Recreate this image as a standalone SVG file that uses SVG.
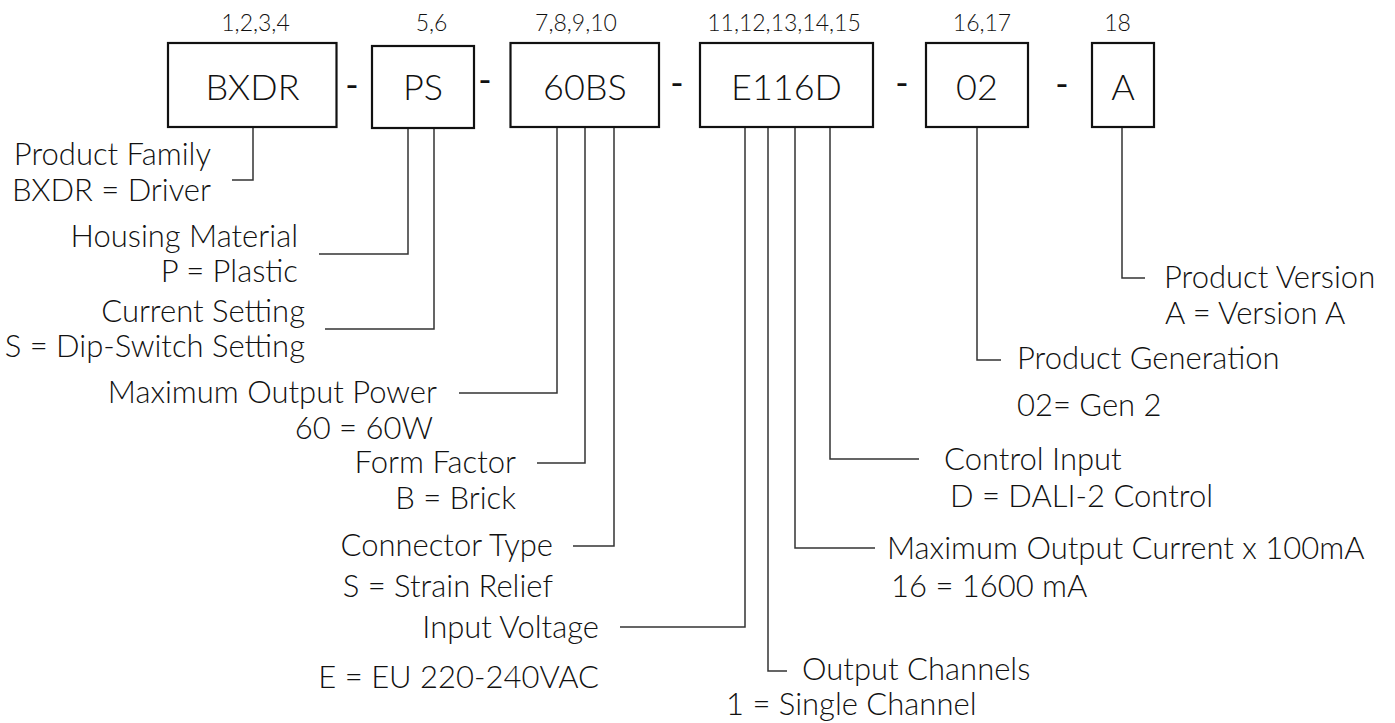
<svg xmlns="http://www.w3.org/2000/svg" width="1395" height="723" viewBox="0 0 1395 723">
<style>
text{font-family:Lato,"Open Sans","Liberation Sans",sans-serif;fill:#111;font-weight:300}
.box{fill:#fff;stroke:#111;stroke-width:2.2}
.code{font-size:36px;text-anchor:middle}
.pos{font-size:23px;text-anchor:middle}
.lbl{font-size:31px}
.r{text-anchor:end}
.l{text-anchor:start}
.dash{font-size:36px;text-anchor:middle;font-weight:400}
.conn{fill:none;stroke:#333;stroke-width:1.5}
</style>
<rect width="1395" height="723" fill="#fff"/>

<g id="connectors">
<path class="conn" d="M253,128 V180 H232"/>
<path class="conn" d="M408,129 V254 H319"/>
<path class="conn" d="M434,129 V329 H325"/>
<path class="conn" d="M557,124 V393 H459"/>
<path class="conn" d="M585,128 V463 H537"/>
<path class="conn" d="M614,128 V546 H573"/>
<path class="conn" d="M745,128 V627 H620"/>
<path class="conn" d="M768,128 V671 H787"/>
<path class="conn" d="M795,128 V548 H875"/>
<path class="conn" d="M830,128 V459 H919"/>
<path class="conn" d="M977,128 V360 H1001"/>
<path class="conn" d="M1122,128 V278 H1145"/>
</g>

<g id="dashes">
<text class="dash" x="352" y="98">-</text>
<text class="dash" x="485" y="93">-</text>
<text class="dash" x="677" y="96">-</text>
<text class="dash" x="902" y="96">-</text>
<text class="dash" x="1062" y="97">-</text>
</g>

<g id="node-bxdr">
<text class="pos" x="255.5" y="31">1,2,3,4</text>
<rect class="box" x="168" y="43" width="168.5" height="84"/>
<text class="code" x="252.5" y="100">BXDR</text>
</g>
<g id="node-ps">
<text class="pos" x="431.5" y="31">5,6</text>
<rect class="box" x="372" y="46" width="102" height="82"/>
<text class="code" x="423" y="100">PS</text>
</g>
<g id="node-60bs">
<text class="pos" x="576" y="31">7,8,9,10</text>
<rect class="box" x="510.5" y="43" width="148.5" height="84"/>
<text class="code" x="585" y="100">60BS</text>
</g>
<g id="node-e116d">
<text class="pos" x="784" y="31">11,12,13,14,15</text>
<rect class="box" x="700" y="43" width="173" height="84"/>
<text class="code" x="786.5" y="100">E116D</text>
</g>
<g id="node-02">
<text class="pos" x="982" y="31">16,17</text>
<rect class="box" x="926" y="43" width="102" height="84"/>
<text class="code" x="977" y="100">02</text>
</g>
<g id="node-a">
<text class="pos" x="1117.5" y="31">18</text>
<rect class="box" x="1092" y="43" width="62" height="84"/>
<text class="code" x="1123" y="100">A</text>
</g>

<g id="label-product-family">
<text class="lbl r" x="211" y="165">Product Family</text>
<text class="lbl r" x="211" y="201">BXDR = Driver</text>
</g>
<g id="label-housing">
<text class="lbl r" x="298" y="247">Housing Material</text>
<text class="lbl r" x="298" y="282">P = Plastic</text>
</g>
<g id="label-current-setting">
<text class="lbl r" x="305" y="322">Current Setting</text>
<text class="lbl r" x="305" y="357">S = Dip-Switch Setting</text>
</g>
<g id="label-power">
<text class="lbl r" x="437" y="403">Maximum Output Power</text>
<text class="lbl r" x="433" y="439">60 = 60W</text>
</g>
<g id="label-form-factor">
<text class="lbl r" x="516" y="473">Form Factor</text>
<text class="lbl r" x="516" y="509">B = Brick</text>
</g>
<g id="label-connector">
<text class="lbl r" x="553" y="556">Connector Type</text>
<text class="lbl r" x="553" y="597">S = Strain Relief</text>
</g>
<g id="label-input-voltage">
<text class="lbl r" x="599" y="638">Input Voltage</text>
<text class="lbl r" x="599" y="688">E = EU 220-240VAC</text>
</g>
<g id="label-output-channels">
<text class="lbl l" x="802" y="680">Output Channels</text>
<text class="lbl l" x="726" y="715">1 = Single Channel</text>
</g>
<g id="label-output-current">
<text class="lbl l" x="887" y="559">Maximum Output Current x 100mA</text>
<text class="lbl l" x="891" y="597">16 = 1600 mA</text>
</g>
<g id="label-control-input">
<text class="lbl l" x="944" y="470">Control Input</text>
<text class="lbl l" x="950" y="507">D = DALI-2 Control</text>
</g>
<g id="label-generation">
<text class="lbl l" x="1017" y="369">Product Generation</text>
<text class="lbl l" x="1017" y="416">02= Gen 2</text>
</g>
<g id="label-version">
<text class="lbl l" x="1164" y="288">Product Version</text>
<text class="lbl l" x="1165" y="324">A = Version A</text>
</g>
</svg>
